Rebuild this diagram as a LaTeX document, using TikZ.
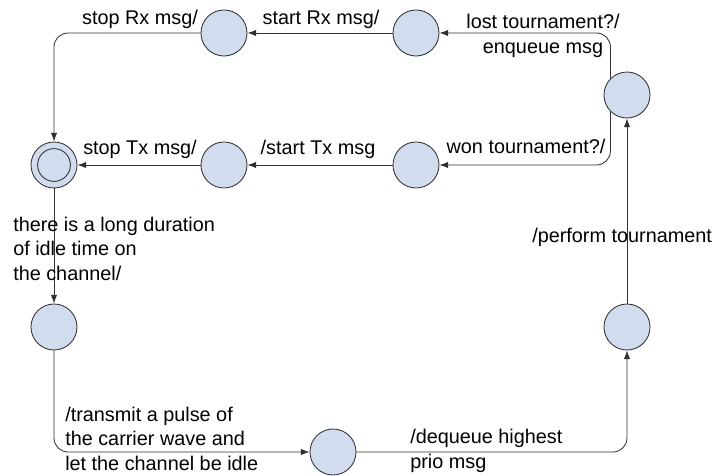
\documentclass[tikz,border=0pt]{standalone}
\usepackage{fontspec}
\setmainfont{Liberation Sans}
\usepackage{tikz}
\usetikzlibrary{arrows.meta,calc,positioning}
\definecolor{stateFill}{HTML}{D1DCEE}
\definecolor{lineGray}{HTML}{303030}

\begin{document}
\begin{tikzpicture}[x=0.025cm,y=-0.025cm,
  state/.style={circle,draw=lineGray,fill=stateFill,line width=0.6pt,minimum size=1.15cm,inner sep=0pt},
  edge/.style={draw=lineGray,line width=0.6pt,-{Latex[length=2.2mm,width=1.6mm]}},
  roundedge/.style={edge,rounded corners=0.35cm},
  lbl/.style={font=\fontsize{14.1}{17.2}\selectfont,inner sep=0pt}]
\useasboundingbox (0,0) rectangle (718,475);
% states
\node[state] (rxStop) at (224,33) {};
\node[state] (rxStart) at (416,33) {};
\node[state] (check) at (627,95) {};
\node[state] (txStart) at (416,165) {};
\node[state] (txStop) at (224,165) {};
\node[state] (idle) at (54,165) {};
\node[state,minimum size=0.82cm] (idleIn) at (idle) {};
\node[state] (wait) at (54,327) {};
\node[state] (pulse) at (333,452) {};
\node[state] (dequeue) at (627,327) {};
% transitions
\draw[edge] (rxStart) -- (rxStop);
\draw[roundedge] (rxStop) -| (idle);
\draw[roundedge] (check.north west) |- (rxStart);
\draw[roundedge] (check.south west) |- (txStart);
\draw[edge] (txStart) -- (txStop);
\draw[edge] (txStop) -- (idle);
\draw[edge] (idle) -- (wait);
\draw[roundedge] (wait) |- (pulse);
\draw[roundedge] (pulse) -| (dequeue);
\draw[edge] (dequeue) -- (check);
% labels (base = last line)
\node[lbl,anchor=base] (lStopRx) at (140,24) {stop Rx msg/};
\node[lbl,anchor=base] (lStartRx) at (321,24) {start Rx msg/};
\node[lbl,anchor=base,align=center] (lLost) at (543,53) {lost tournament?/\\enqueue msg};
\node[lbl,anchor=base] (lStopTx) at (140,154) {stop Tx msg/};
\node[lbl,anchor=base] (lStartTx) at (318,154) {/start Tx msg};
\node[lbl,anchor=base] (lWon) at (526,153) {won tournament?/};
\node[lbl,anchor=base west] (lPerform) at (532,242) {/perform tournament};
\node[lbl,anchor=base west,align=left] (lIdle) at (13,280) {there is a long duration\\of idle time on\\the channel/};
\node[lbl,anchor=base west,align=left] (lPulse) at (65,470) {/transmit a pulse of\\the carrier wave and\\let the channel be idle};
\node[lbl,anchor=base west,align=left] (lDequeue) at (410,468) {/dequeue highest\\prio msg};
\end{tikzpicture}
\end{document}
